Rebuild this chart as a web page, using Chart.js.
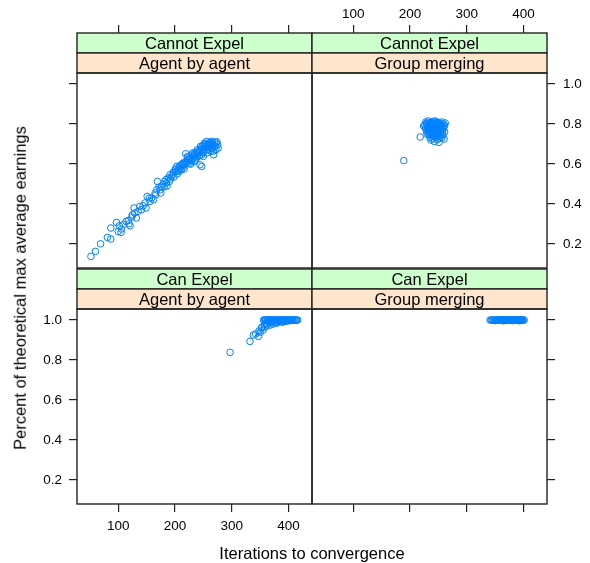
<!DOCTYPE html>
<html>
<head>
<meta charset="utf-8">
<script src="https://cdn.jsdelivr.net/npm/chart.js@4.4.0/dist/chart.umd.min.js"></script>
<style>
    body { margin: 0; background: #fff; }
    #page { position: relative; width: 590px; height: 563px; overflow: hidden; font-family: 'Liberation Sans', Arial, sans-serif; }
    #page canvas { position: absolute; left: 0; top: 0; }
    .axis-title { position: absolute; font-size: 16.5px; color: #000; white-space: nowrap; line-height: 1; }
    #x-title { left: 312px; top: 553px; transform: translate(-50%, -50%); }
    #y-title { left: 20px; top: 288px; transform: translate(-50%, -50%) rotate(-90deg); }
</style>
</head>
<body>
<div id="page">
    <canvas id="panel-tl" width="590" height="563"></canvas>
    <canvas id="panel-tr" width="590" height="563"></canvas>
    <canvas id="panel-bl" width="590" height="563"></canvas>
    <canvas id="panel-br" width="590" height="563"></canvas>
    <div class="axis-title" id="x-title">Iterations to convergence</div>
    <div class="axis-title" id="y-title">Percent of theoretical max average earnings</div>
</div>
<script>
"use strict";

// ticks and ranges of the shared axes
const xTicks = [100, 200, 300, 400];
const yTicks = [0.2, 0.4, 0.6, 0.8, 1.0];
const xRange = [27.5, 441.2];
const yRange = [0.08, 1.055];

const expelLabels = ['Cannot Expel', 'Can Expel'];
const methodLabels = ['Agent by agent', 'Group merging'];

// Cannot Expel / Agent by agent
const cannotAgentIter = [52, 60, 69, 81, 87, 87, 97, 100, 105, 106, 102, 119, 121, 118, 128, 125, 132, 129, 138, 144,
    141, 151, 156, 159, 165, 168, 169, 174, 176, 179, 182, 185, 188, 191, 194, 197, 200, 203, 206, 209,
    212, 215, 218, 219, 221, 224, 226, 229, 232, 235, 238, 241, 244, 247, 250, 253, 256, 259, 262, 265,
    268, 271, 274, 276, 244, 247,
    109, 114, 124, 135, 147, 149, 155, 162, 166, 172, 175, 181, 184, 186, 190, 192, 196, 198, 202, 204,
    208, 210, 214, 216, 222, 225, 228, 231, 234, 237, 239, 243, 245, 249, 251, 255, 257, 261, 263, 266,
    269, 272, 275, 256, 265, 250,
    201, 205, 209, 213, 217, 222, 226, 230, 234, 238, 242, 246, 250, 254, 258, 262, 266, 270,
    236, 240, 248, 252, 260, 264, 268, 272, 228, 232, 220, 212];
const cannotAgentEarn = [0.138, 0.163, 0.201, 0.233, 0.225, 0.280, 0.308, 0.263, 0.258, 0.275, 0.291, 0.301, 0.291, 0.318, 0.380, 0.346, 0.330, 0.355, 0.388, 0.391,
    0.371, 0.438, 0.413, 0.430, 0.455, 0.471, 0.513, 0.471, 0.485, 0.497, 0.513, 0.505, 0.530, 0.546, 0.538, 0.558, 0.571, 0.588, 0.563, 0.580,
    0.596, 0.588, 0.608, 0.651, 0.605, 0.621, 0.635, 0.613, 0.638, 0.655, 0.630, 0.663, 0.671, 0.646, 0.680, 0.688, 0.713, 0.671, 0.696, 0.680,
    0.646, 0.688, 0.710, 0.680, 0.596, 0.588,
    0.297, 0.313, 0.335, 0.363, 0.405, 0.380, 0.430, 0.421, 0.446, 0.485, 0.455, 0.485, 0.522, 0.491, 0.513, 0.525, 0.546, 0.535, 0.563, 0.551,
    0.591, 0.568, 0.605, 0.575, 0.638, 0.601, 0.621, 0.655, 0.613, 0.646, 0.671, 0.641, 0.688, 0.658, 0.696, 0.671, 0.691, 0.708, 0.663, 0.705,
    0.685, 0.671, 0.696, 0.655, 0.713, 0.638,
    0.575, 0.570, 0.590, 0.600, 0.598, 0.630, 0.625, 0.645, 0.640, 0.660, 0.655, 0.675, 0.665, 0.700, 0.700, 0.685, 0.700, 0.710,
    0.620, 0.640, 0.690, 0.705, 0.690, 0.700, 0.665, 0.705, 0.600, 0.628, 0.615, 0.575];

// Cannot Expel / Group merging
const cannotGroupIter = [189, 218, 251, 260, 243,
    228, 232, 236, 240, 244, 248, 252, 256, 259, 226, 230, 234, 238, 242, 246, 250, 254, 258, 261,
    227, 231, 235, 239, 243, 247, 251, 255, 259, 229, 233, 237, 241, 245, 249, 253, 257, 261,
    230, 234, 238, 242, 246, 250, 254, 258, 235, 240, 245, 252, 237, 248, 256, 262, 224, 244, 236,
    229, 231, 233, 235, 237, 239, 241, 243, 245, 247, 249, 251, 253, 255, 257,
    230, 232, 234, 236, 238, 240, 242, 244, 246, 248, 250, 252, 254, 256,
    233, 237, 241, 245, 249, 253, 239, 243, 247, 251];
const cannotGroupEarn = [0.617, 0.735, 0.708, 0.725, 0.712,
    0.810, 0.815, 0.808, 0.812, 0.815, 0.810, 0.806, 0.810, 0.800, 0.795, 0.800, 0.790, 0.798, 0.802, 0.795, 0.790, 0.797, 0.788, 0.792,
    0.780, 0.775, 0.785, 0.780, 0.788, 0.776, 0.782, 0.775, 0.778, 0.765, 0.760, 0.768, 0.770, 0.762, 0.766, 0.758, 0.764, 0.760,
    0.750, 0.745, 0.752, 0.740, 0.748, 0.742, 0.750, 0.745, 0.732, 0.728, 0.735, 0.728, 0.720, 0.722, 0.730, 0.805, 0.790, 0.778, 0.802,
    0.803, 0.787, 0.771, 0.806, 0.757, 0.793, 0.744, 0.810, 0.769, 0.800, 0.755, 0.790, 0.772, 0.797, 0.752,
    0.783, 0.792, 0.803, 0.776, 0.740, 0.762, 0.795, 0.752, 0.785, 0.765, 0.804, 0.778, 0.738, 0.794,
    0.748, 0.790, 0.758, 0.772, 0.806, 0.785, 0.773, 0.765, 0.790, 0.757];

// Can Expel / Agent by agent
const canAgentIter = [297, 332, 338, 342, 347, 348, 350, 352, 353, 355, 357, 358, 360, 362, 365, 368, 370, 373, 376, 380,
    384, 388, 392, 396, 400,
    356, 359, 362, 365, 368, 371, 374, 377, 380, 383, 386, 389, 392, 395, 398, 401, 404, 407, 410, 413, 416,
    366, 375, 385, 395, 405,
    357, 360, 363, 366, 369, 372, 375, 378, 381, 384, 387, 390, 393, 396, 399, 402, 405, 408, 411, 414,
    361, 367, 372, 378, 383, 390];
const canAgentEarn = [0.838, 0.893, 0.925, 0.930, 0.918, 0.945, 0.937, 0.960, 0.963, 0.950, 0.975, 0.965, 0.985, 0.970, 0.990, 0.975, 0.985, 0.980, 0.990, 0.985,
    0.993, 0.990, 0.995, 0.993, 0.997,
    1.0, 1.0, 1.0, 1.0, 1.0, 1.0, 1.0, 1.0, 1.0, 1.0, 1.0, 1.0, 1.0, 1.0, 1.0, 1.0, 1.0, 1.0, 1.0, 1.0, 1.0,
    0.997, 0.997, 0.997, 0.997, 0.997,
    0.999, 0.999, 0.999, 0.999, 0.999, 0.999, 0.999, 0.999, 0.999, 0.999, 0.999, 0.999, 0.999, 0.999, 0.999, 0.999, 0.999, 0.999, 0.999, 0.999,
    0.982, 0.988, 0.992, 0.986, 0.994, 0.989];

// Can Expel / Group merging
const canGroupIter = [341, 345, 349, 352, 355, 358, 360, 362, 364, 366, 368, 370, 372, 374, 376, 378, 380, 382, 384, 386,
    388, 390, 392, 394, 396, 398, 401, 350, 365, 380, 393,
    343, 347, 351, 354, 357, 359, 361, 363, 365, 367, 369, 371, 373, 375, 377, 379, 381, 383, 385, 387,
    389, 391, 393, 395, 397, 399];
const canGroupEarn = [1.0, 1.0, 1.0, 1.0, 1.0, 1.0, 1.0, 1.0, 1.0, 1.0, 1.0, 1.0, 1.0, 1.0, 1.0, 1.0, 1.0, 1.0, 1.0, 1.0,
    1.0, 1.0, 1.0, 1.0, 1.0, 1.0, 1.0, 0.997, 0.996, 0.997, 0.996,
    0.999, 0.999, 0.999, 0.999, 0.999, 0.999, 0.999, 0.999, 0.999, 0.999, 0.999, 0.999, 0.999, 0.999, 0.999, 0.999, 0.999, 0.999, 0.999, 0.999,
    0.999, 0.999, 0.999, 0.999, 0.999, 0.999];

const INK = '#222';
const POINT_COLOR = '#0080ff';
const STRIP_COLORS = ['#ccffcc', '#ffe5cc'];
const TICK_FONT = {family: "'Liberation Sans', Arial, sans-serif", size: 13.5};
const STRIP_FONT = "16.5px 'Liberation Sans', Arial, sans-serif";

// panel boxes on the page (data area, strips sit above)
const COLS = [[77, 312], [312, 547]];
const ROWS = [[73, 268], [309, 504]];
const AXIS_SIZE = {top: 70, bottom: 35, left: 40, right: 40};

Chart.defaults.font.family = TICK_FONT.family;

/**
 * Dessine les deux bandeaux (strips) et le cadre du panneau
 */
const panelFrame = {
    id: 'panelFrame',
    afterDraw(chart, args, options) {
        const {ctx, chartArea: {left, top, right, bottom}} = chart;
        const labels = [options.expel, options.method];
        ctx.save();
        ctx.lineWidth = 1.4;
        ctx.strokeStyle = INK;
        for (let i = 0; i < 2; i++) {
            const y0 = top - 40 + i * 20;
            ctx.fillStyle = STRIP_COLORS[i];
            ctx.fillRect(left, y0, right - left, 20);
            ctx.strokeRect(left, y0, right - left, 20);
            ctx.fillStyle = '#000';
            ctx.font = STRIP_FONT;
            ctx.textAlign = 'center';
            ctx.textBaseline = 'alphabetic';
            ctx.fillText(labels[i], (left + right) / 2, y0 + 16);
        }
        ctx.strokeRect(left, top, right - left, bottom - top);
        ctx.restore();
    }
};

/**
 * mode: null (pas d'axe), 'ticks' (graduations seules) ou 'labels'
 */
function axis(position, mode) {
    const horizontal = position === 'top' || position === 'bottom';
    const values = horizontal ? xTicks : yTicks;
    const range = horizontal ? xRange : yRange;
    const paddings = {top: 3, bottom: 6, left: 7, right: 8};
    const size = mode === null ? 0 : AXIS_SIZE[position];
    return {
        type: 'linear',
        position: position,
        min: range[0],
        max: range[1],
        display: mode !== null,
        afterBuildTicks: function (scale) {
            scale.ticks = values.map(v => ({value: v}));
        },
        afterFit: function (scale) {
            if (horizontal) {
                scale.height = size;
            } else {
                scale.width = size;
            }
        },
        grid: {
            drawOnChartArea: false,
            drawTicks: true,
            tickLength: position === 'top' ? 48 : 8,
            color: INK,
            lineWidth: 1.2
        },
        border: {display: false},
        ticks: {
            display: mode === 'labels',
            autoSkip: false,
            maxRotation: 0,
            padding: paddings[position],
            color: '#000',
            font: TICK_FONT,
            callback: function (value) {
                return horizontal ? String(value) : value.toFixed(1);
            }
        }
    };
}

function makePanel(canvasId, row, col, iter, earn, axes) {
    const [left, right] = COLS[col];
    const [top, bottom] = ROWS[row];
    const size = side => axes[side] ? AXIS_SIZE[side] : 0;

    const points = [];
    for (let i = 0; i < iter.length; i++) {
        points.push({x: iter[i], y: earn[i]});
    }

    return new Chart(document.getElementById(canvasId), {
        type: 'scatter',
        data: {
            datasets: [{
                data: points,
                pointStyle: 'circle',
                pointRadius: 3.3,
                pointBorderWidth: 1,
                borderColor: POINT_COLOR,
                backgroundColor: 'rgba(0,0,0,0)',
                xAxisID: 'x',
                yAxisID: 'y'
            }]
        },
        options: {
            responsive: false,
            animation: false,
            devicePixelRatio: 1,
            events: [],
            layout: {
                padding: {
                    left: left - size('left'),
                    right: 590 - right - size('right'),
                    top: top - size('top'),
                    bottom: 563 - bottom - size('bottom')
                }
            },
            scales: {
                x: axis('bottom', axes.bottom),
                xTop: axis('top', axes.top),
                y: axis('left', axes.left),
                yRight: axis('right', axes.right)
            },
            plugins: {
                legend: {display: false},
                tooltip: {enabled: false},
                panelFrame: {expel: expelLabels[row], method: methodLabels[col]}
            }
        },
        plugins: [panelFrame]
    });
}

makePanel('panel-tl', 0, 0, cannotAgentIter, cannotAgentEarn, {top: 'ticks', left: 'ticks', bottom: null, right: null});
makePanel('panel-tr', 0, 1, cannotGroupIter, cannotGroupEarn, {top: 'labels', right: 'labels', bottom: null, left: null});
makePanel('panel-bl', 1, 0, canAgentIter, canAgentEarn, {bottom: 'labels', left: 'labels', top: null, right: null});
makePanel('panel-br', 1, 1, canGroupIter, canGroupEarn, {bottom: 'ticks', right: 'ticks', top: null, left: null});
</script>
</body>
</html>
